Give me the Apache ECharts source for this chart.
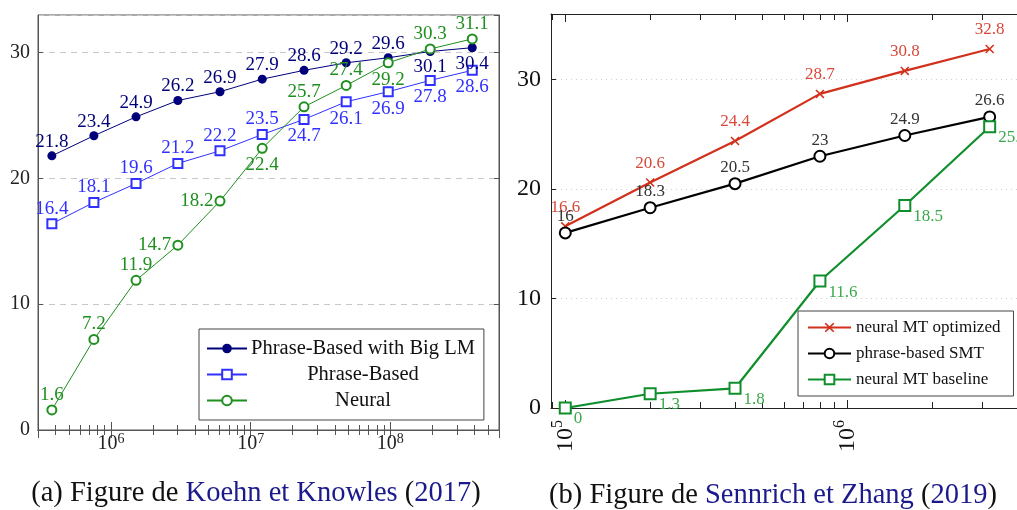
<!DOCTYPE html>
<html>
<head>
<meta charset="utf-8">
<script src="https://cdn.jsdelivr.net/npm/echarts@6/dist/echarts.min.js"></script>
<style>
  html, body { margin: 0; padding: 0; background: #fff; }
  #chart { width: 1017px; height: 510px; }
</style>
</head>
<body>
<div id="chart"></div>
<script>
// (a) Koehn & Knowles (2017): corpus size in words vs BLEU
const sizesA = [377000, 754000, 1510000, 3010000, 6030000, 12100000, 24100000, 48300000, 96600000, 193000000, 386000000];
const bigLm = [21.8, 23.4, 24.9, 26.2, 26.9, 27.9, 28.6, 29.2, 29.6, 30.1, 30.4];
const phraseBased = [16.4, 18.1, 19.6, 21.2, 22.2, 23.5, 24.7, 26.1, 26.9, 27.8, 28.6];
const neural = [1.6, 7.2, 11.9, 14.7, 18.2, 22.4, 25.7, 27.4, 29.2, 30.3, 31.1];
const namesA = ['Phrase-Based with Big LM', 'Phrase-Based', 'Neural'];

// (b) Sennrich & Zhang (2019)
const sizesB = [100000, 200000, 400000, 800000, 1600000, 3200000];
const nmtOptimized = [16.6, 20.6, 24.4, 28.7, 30.8, 32.8];
const pbSmt = [16, 18.3, 20.5, 23, 24.9, 26.6];
const nmtBaseline = [0, 1.3, 1.8, 11.6, 18.5, 25.7];
const namesB = ['neural MT optimized', 'phrase-based SMT', 'neural MT baseline'];

// where each point label sits (styling only)
const bigLmPos = ['top', 'top', 'top', 'top', 'top', 'top', 'top', 'top', 'top', 'bottom', 'bottom'];
const phrasePos = ['top', 'top', 'top', 'top', 'top', 'top', 'bottom', 'bottom', 'bottom', 'bottom', 'bottom'];
const neuralPos = ['top', 'top', 'top', 'left', 'left', 'bottom', 'top', 'top', 'bottom', 'top', 'top'];

const SERIF = '"Liberation Serif", "DejaVu Serif", serif';
const NAVY = '#00007a';
const BLUE = '#3030ff';
const GREEN_A = '#1f8f1f';
const RED = '#d2301c';
const GREEN_B = '#0f8f2c';
const CROSS = 'path://M0,1.2L1.2,0L5,3.8L8.8,0L10,1.2L6.2,5L10,8.8L8.8,10L5,6.2L1.2,10L0,8.8L3.8,5Z';

const distFor = { top: 0, bottom: 2, left: 1, right: 2 };

function points(xs, ys, pos) {
  return ys.map((y, i) => {
    const item = { value: [xs[i], y] };
    if (pos) item.label = { position: pos[i], distance: distFor[pos[i]] };
    return item;
  });
}

function powLabel(v) {
  const e = Math.log10(v);
  const r = Math.round(e);
  return Math.abs(e - r) < 1e-6 ? '10{s|' + r + '}' : '';
}

const chart = echarts.init(document.getElementById('chart'), null, { renderer: 'canvas' });

const tickA = { inside: true, length: 8, lineStyle: { color: '#555' } };
const minorA = { show: true, splitNumber: 9, length: 5, lineStyle: { color: '#555' } };
const tickB = { inside: true, length: 8, lineStyle: { color: '#222' } };
const minorB = { show: true, splitNumber: 9, length: 6, lineStyle: { color: '#222' } };

chart.setOption({
  animation: false,
  backgroundColor: '#fff',
  grid: [
    { left: 38, right: 518, top: 15, bottom: 80, show: true, borderColor: '#555', borderWidth: 1 },
    { left: 551, right: 0, top: 14, bottom: 102 }
  ],
  xAxis: [
    {
      type: 'log', gridIndex: 0, min: 300000, max: 600000000,
      axisLine: { lineStyle: { color: '#555' } },
      axisTick: tickA, minorTick: minorA, splitLine: { show: false },
      axisLabel: {
        formatter: powLabel, color: '#222', fontFamily: SERIF, fontSize: 20, lineHeight: 24, margin: 2,
        rich: { s: { fontSize: 14, lineHeight: 14, verticalAlign: 'top', fontFamily: SERIF, color: '#222' } }
      }
    },
    {
      type: 'log', gridIndex: 0, position: 'top', min: 300000, max: 600000000,
      axisLine: { lineStyle: { color: '#555' } },
      axisTick: tickA, minorTick: minorA, splitLine: { show: false }, axisLabel: { show: false }
    },
    {
      type: 'log', gridIndex: 1, min: 89000, max: 4000000,
      axisLine: { lineStyle: { color: '#222' } },
      axisTick: tickB, minorTick: minorB, splitLine: { show: false },
      axisLabel: {
        formatter: powLabel, rotate: 90, color: '#111', fontFamily: SERIF, fontSize: 24, lineHeight: 30, margin: 12,
        rich: { s: { fontSize: 16, lineHeight: 16, verticalAlign: 'top', fontFamily: SERIF, color: '#111' } }
      }
    },
    {
      type: 'log', gridIndex: 1, position: 'top', min: 89000, max: 4000000,
      axisLine: { lineStyle: { color: '#222' } },
      axisTick: tickB, minorTick: minorB, splitLine: { show: false }, axisLabel: { show: false }
    }
  ],
  yAxis: [
    {
      type: 'value', gridIndex: 0, min: 0, max: 33, interval: 10,
      axisLine: { show: true, lineStyle: { color: '#555' } },
      axisTick: { show: true, inside: true, length: 5, lineStyle: { color: '#555' } },
      axisLabel: { color: '#222', fontFamily: SERIF, fontSize: 20, margin: 8, showMaxLabel: false },
      splitLine: { lineStyle: { color: '#c8c8c8', type: [6, 5], width: 1 } }
    },
    {
      type: 'value', gridIndex: 0, position: 'right', min: 0, max: 33, interval: 10,
      axisLine: { show: true, lineStyle: { color: '#555' } },
      axisTick: { show: true, inside: true, length: 5, lineStyle: { color: '#555' } },
      axisLabel: { show: false }, splitLine: { show: false }
    },
    {
      type: 'value', gridIndex: 1, min: 0, max: 36, interval: 10,
      axisLine: { show: true, lineStyle: { color: '#222' } },
      axisTick: { show: true, inside: true, length: 5, lineStyle: { color: '#222' } },
      axisLabel: { color: '#111', fontFamily: SERIF, fontSize: 24, margin: 10, showMaxLabel: false },
      splitLine: { lineStyle: { color: '#cfcfcf', type: [1, 4], width: 1 } }
    }
  ],
  legend: [
    {
      data: namesA, orient: 'vertical', left: 199, top: 329,
      padding: [9, 9, 9, 7], itemGap: 5, itemWidth: 40, itemHeight: 12,
      borderColor: '#444', borderWidth: 1, backgroundColor: '#fff', selectedMode: false,
      formatter: n => '{c|' + n + '}',
      textStyle: { color: '#111', fontFamily: SERIF, fontSize: 20.5,
        rich: { c: { width: 222, align: 'center', fontFamily: SERIF, fontSize: 20.5, color: '#111' } } }
    },
    {
      data: namesB, orient: 'vertical', left: 798, top: 311,
      padding: [8, 13, 8, 9], itemGap: 9, itemWidth: 43, itemHeight: 12,
      borderColor: '#444', borderWidth: 1, backgroundColor: '#fff', selectedMode: false,
      formatter: n => '{c|' + n + '}',
      textStyle: { color: '#111', fontFamily: SERIF, fontSize: 17,
        rich: { c: { width: 150, fontFamily: SERIF, fontSize: 17, color: '#111' } } }
    }
  ],
  series: [
    {
      name: namesA[0], type: 'line', xAxisIndex: 0, yAxisIndex: 0,
      data: points(sizesA, bigLm, bigLmPos),
      symbol: 'circle', symbolSize: 9,
      itemStyle: { color: NAVY }, lineStyle: { color: NAVY, width: 1 },
      label: { show: true, formatter: p => p.value[1], color: NAVY, fontFamily: SERIF, fontSize: 19 }
    },
    {
      name: namesA[1], type: 'line', xAxisIndex: 0, yAxisIndex: 0,
      data: points(sizesA, phraseBased, phrasePos),
      symbol: 'emptyRect', symbolSize: 9,
      itemStyle: { color: BLUE, borderWidth: 1 }, lineStyle: { color: BLUE, width: 1 },
      label: { show: true, formatter: p => p.value[1], color: BLUE, fontFamily: SERIF, fontSize: 19 }
    },
    {
      name: namesA[2], type: 'line', xAxisIndex: 0, yAxisIndex: 0,
      data: points(sizesA, neural, neuralPos),
      symbol: 'emptyCircle', symbolSize: 9,
      itemStyle: { color: GREEN_A, borderWidth: 1 }, lineStyle: { color: GREEN_A, width: 1 },
      label: { show: true, formatter: p => p.value[1], color: GREEN_A, fontFamily: SERIF, fontSize: 19 }
    },
    {
      name: namesB[0], type: 'line', xAxisIndex: 2, yAxisIndex: 2,
      data: points(sizesB, nmtOptimized),
      symbol: CROSS, symbolSize: 9,
      itemStyle: { color: RED }, lineStyle: { color: RED, width: 2.2 },
      label: { show: true, position: 'top', distance: 6, formatter: p => p.value[1], color: '#d9483a', fontFamily: SERIF, fontSize: 17 }
    },
    {
      name: namesB[1], type: 'line', xAxisIndex: 2, yAxisIndex: 2,
      data: points(sizesB, pbSmt),
      symbol: 'emptyCircle', symbolSize: 11,
      itemStyle: { color: '#000', borderWidth: 2 }, lineStyle: { color: '#000', width: 2.2 },
      label: { show: true, position: 'top', distance: 1, formatter: p => p.value[1], color: '#333', fontFamily: SERIF, fontSize: 17 }
    },
    {
      name: namesB[2], type: 'line', xAxisIndex: 2, yAxisIndex: 2,
      data: points(sizesB, nmtBaseline),
      symbol: 'emptyRect', symbolSize: 11,
      itemStyle: { color: GREEN_B, borderWidth: 2 }, lineStyle: { color: GREEN_B, width: 2.2 },
      label: { show: true, position: 'right', distance: 2, offset: [0, 11], formatter: p => p.value[1], color: '#3aa94a', fontFamily: SERIF, fontSize: 17 }
    }
  ],
  graphic: [
    {
      type: 'text', x: 256, y: 494,
      style: {
        text: '(a) Figure de {n|Koehn et Knowles} ({n|2017})',
        align: 'center', verticalAlign: 'middle', fill: '#111', fontFamily: SERIF, fontSize: 28.5,
        rich: { n: { fill: '#1a1a8c', fontFamily: SERIF, fontSize: 28.5 } }
      }
    },
    {
      type: 'text', x: 773, y: 496,
      style: {
        text: '(b) Figure de {n|Sennrich et Zhang} ({n|2019})',
        align: 'center', verticalAlign: 'middle', fill: '#111', fontFamily: SERIF, fontSize: 28.5,
        rich: { n: { fill: '#1a1a8c', fontFamily: SERIF, fontSize: 28.5 } }
      }
    }
  ]
});

window.addEventListener('resize', () => chart.resize());
</script>
</body>
</html>
